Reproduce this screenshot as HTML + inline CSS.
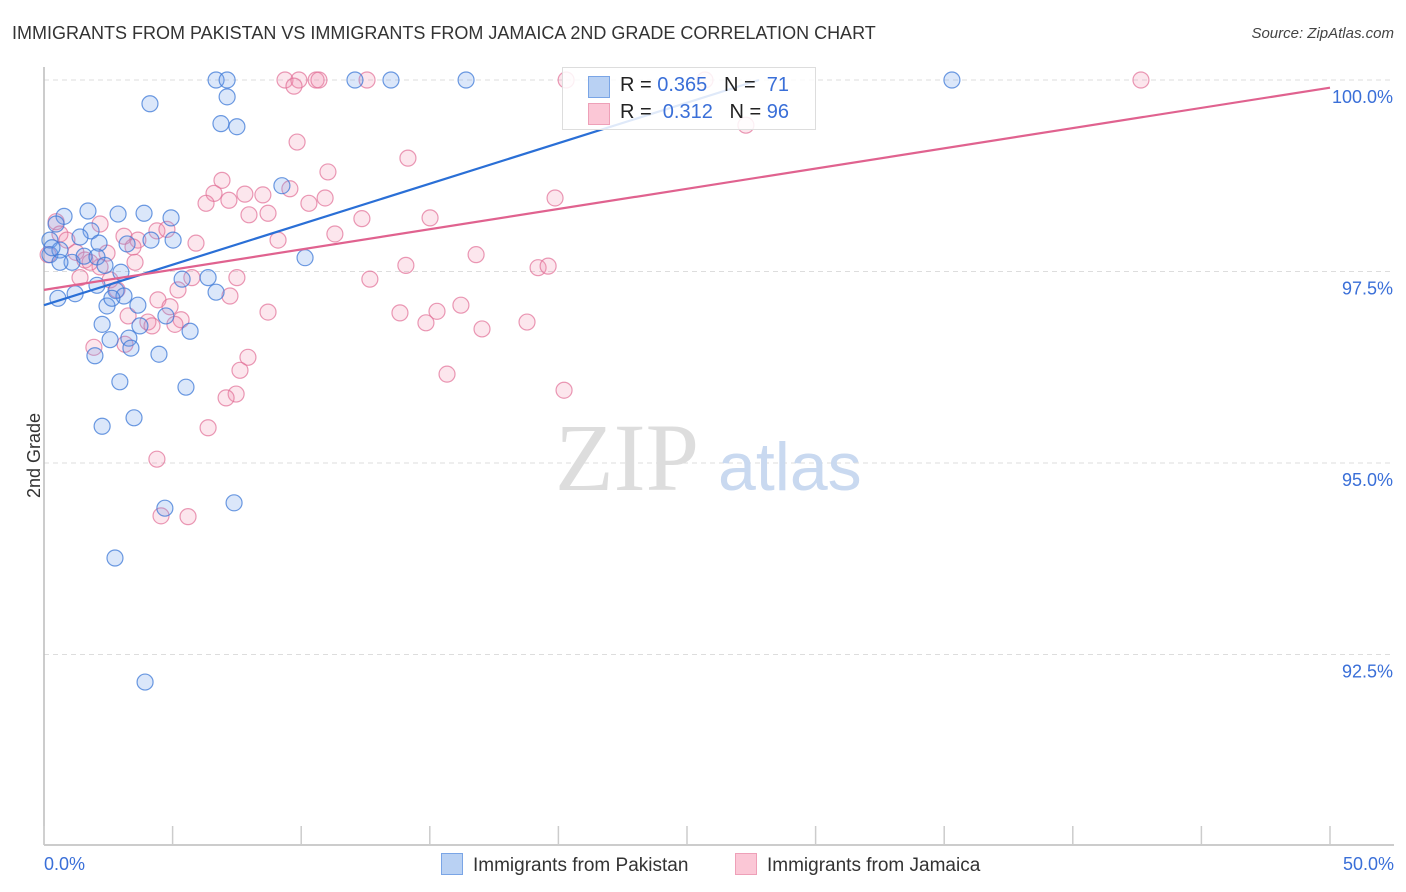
<!DOCTYPE html>
<html><head><meta charset="utf-8"><style>
body{margin:0;background:#fff;font-family:"Liberation Sans",sans-serif;}
#wrap{position:relative;width:1406px;height:892px;overflow:hidden;}
.t{position:absolute;white-space:nowrap;}
</style></head><body>
<div id="wrap">
<div class="t" style="left:12px;top:23px;font-size:18px;color:#333;">IMMIGRANTS FROM PAKISTAN VS IMMIGRANTS FROM JAMAICA 2ND GRADE CORRELATION CHART</div>
<div class="t" style="right:12px;top:25px;font-size:15px;color:#444;font-style:italic;">Source: ZipAtlas.com</div>
<div class="t" style="left:-8px;top:445px;font-size:18px;color:#333;transform:rotate(-90deg);">2nd Grade</div>
<svg id="plot" width="1406" height="892" style="position:absolute;left:0;top:0"></svg>
</div>
<script>
const xTicks=[0,5,10,15,20,25,30,35,40,45,50];
const yTicks=[100,97.5,95,92.5];
const yTickLabels=["100.0%","97.5%","95.0%","92.5%"];
const blueX=[6.69,7.12,12.09,13.49,16.41,35.30,4.12,7.12,6.88,7.50,9.25,10.15,0.78,1.71,2.88,3.89,4.94,0.47,1.83,1.40,2.14,3.23,4.16,5.02,0.23,0.23,0.62,1.09,1.56,2.06,2.37,2.99,5.37,6.38,6.69,0.54,1.21,2.06,2.80,3.11,2.45,3.65,4.74,2.26,3.73,5.68,2.57,3.30,3.38,4.47,1.98,2.95,5.52,3.50,2.26,4.70,7.39,2.76,3.93,0.31,0.62,2.64];
const blueY=[100,100,100,100,100,100,99.69,99.78,99.43,99.39,98.62,97.68,98.22,98.29,98.25,98.26,98.20,98.12,98.03,97.95,97.87,97.86,97.91,97.91,97.91,97.72,97.78,97.62,97.70,97.69,97.58,97.49,97.40,97.42,97.23,97.15,97.21,97.32,97.25,97.18,97.05,97.06,96.92,96.81,96.79,96.72,96.61,96.63,96.50,96.42,96.40,96.06,95.99,95.59,95.48,94.41,94.48,93.76,92.14,97.81,97.62,97.15];
const pinkX=[9.37,9.91,10.58,10.69,12.56,20.30,42.65,9.72,25.70,27.29,9.84,11.04,14.15,6.92,9.56,6.61,7.19,6.30,7.81,8.51,8.71,10.93,7.97,10.30,12.36,15.01,19.87,11.31,5.91,2.18,0.47,0.62,0.89,3.11,3.65,4.39,4.78,2.45,3.46,1.24,1.59,2.18,3.54,9.10,16.80,14.07,19.21,19.60,12.67,7.50,5.75,5.21,7.23,4.43,4.90,2.84,3.27,4.04,5.33,5.09,8.71,13.84,15.28,16.21,14.85,17.03,18.78,1.94,3.15,4.20,7.93,7.62,15.67,20.22,7.47,7.08,6.38,4.39,4.55,5.60,0.16,1.79,1.40,2.57];
const pinkY=[100,100,100,100,100,100,100,99.92,100,99.41,99.19,98.80,98.98,98.69,98.58,98.52,98.43,98.39,98.51,98.50,98.26,98.46,98.24,98.39,98.19,98.20,98.46,97.99,97.87,98.12,98.15,97.99,97.91,97.96,97.91,98.03,98.05,97.74,97.82,97.75,97.65,97.56,97.62,97.91,97.72,97.58,97.55,97.57,97.40,97.42,97.42,97.26,97.18,97.13,97.04,97.26,96.92,96.84,96.87,96.81,96.97,96.96,96.98,97.06,96.83,96.75,96.84,96.51,96.55,96.79,96.38,96.21,96.16,95.95,95.90,95.85,95.46,95.05,94.31,94.30,97.72,97.62,97.42,97.39];
const blueTrend=[[0,97.06],[27.8,100]];
const pinkTrend=[[0,97.26],[50,99.90]];
const NS="http://www.w3.org/2000/svg";
const svg=document.getElementById('plot');
const X0=44,X1=1330,Y100=80,PX_PER=191.5/2.5;
function sx(v){return X0+(v-0)/50*(X1-X0);}
function sy(v){return Y100+(100-v)*PX_PER;}
function el(tag,attrs,parent){const e=document.createElementNS(NS,tag);for(const k in attrs)e.setAttribute(k,attrs[k]);(parent||svg).appendChild(e);return e;}
// gridlines
yTicks.forEach((v,i)=>{
  const g=el('line',{x1:X0,x2:1394,y1:sy(v),y2:sy(v),stroke:'#ddd','stroke-dasharray':'5,4','stroke-width':1});
  
  
  const t=el('text',{x:1393,y:sy(v)+23,'text-anchor':'end','font-size':18,fill:'#3a6fd8','font-family':'Liberation Sans, sans-serif'});
  t.textContent=yTickLabels[i];
  
  
});
// axes
const ya=el('line',{x1:X0,x2:X0,y1:67,y2:845,stroke:'#bbb','stroke-width':1.5});


const xa=el('line',{x1:X0,x2:1394,y1:845,y2:845,stroke:'#bbb','stroke-width':1.5});


xTicks.forEach(v=>{
  const t=el('line',{x1:sx(v),x2:sx(v),y1:826,y2:845,stroke:'#ccc','stroke-width':1.5});
  
  
});
[[0,'0.0%','start',44],[50,'50.0%','end',1394]].forEach(a=>{
  const t=el('text',{x:a[3],y:870,'text-anchor':a[2],'font-size':18,fill:'#3a6fd8','font-family':'Liberation Sans, sans-serif'});
  t.textContent=a[1];
  
  
});
// watermark
const wm=el('text',{x:555,y:490,'font-size':96,fill:'#ddd','font-family':'Liberation Serif, serif'});
wm.textContent='ZIP';


const wm2=el('text',{x:718,y:490,'font-size':68,fill:'#c9d9f0','font-family':'Liberation Sans, sans-serif'});
wm2.textContent='atlas';


// points
function pts(xs,ys,fill,stroke,name){
  xs.forEach((x,i)=>{
    const c=el('circle',{cx:sx(x),cy:sy(ys[i]),r:8,fill:fill,stroke:stroke,'stroke-width':1.2});
    
    
  });
}
pts(pinkX,pinkY,'rgba(240,140,175,0.22)','rgba(225,110,150,0.7)','pink-point');
pts(blueX,blueY,'rgba(110,160,235,0.25)','rgba(60,120,215,0.75)','blue-point');
// trends
const bl=el('line',{x1:sx(blueTrend[0][0]),y1:sy(blueTrend[0][1]),x2:sx(blueTrend[1][0]),y2:sy(blueTrend[1][1]),stroke:'#2a6fd6','stroke-width':2.2});


const pl=el('line',{x1:sx(pinkTrend[0][0]),y1:sy(pinkTrend[0][1]),x2:sx(pinkTrend[1][0]),y2:sy(pinkTrend[1][1]),stroke:'#e0628f','stroke-width':2.2});


</script>
<div class="t" style="left:562px;top:67px;width:254px;height:63px;background:rgba(255,255,255,0.85);border:1px solid #ddd;box-sizing:border-box;font-size:20px;">
 <div style="position:absolute;left:25px;top:8px;width:20px;height:20px;background:#b9d1f3;border:1px solid #7aa5e6;"></div>
 <div style="position:absolute;left:57px;top:6px;color:#222;">R = <span style="color:#3a6fd8">0.365</span>&nbsp;&nbsp;&nbsp;N = &nbsp;<span style="color:#3a6fd8">71</span></div>
 <div style="position:absolute;left:25px;top:35px;width:20px;height:20px;background:#fbc7d6;border:1px solid #eea0b8;"></div>
 <div style="position:absolute;left:57px;top:33px;color:#222;">R = &nbsp;<span style="color:#3a6fd8">0.312</span>&nbsp;&nbsp;&nbsp;N = <span style="color:#3a6fd8">96</span></div>
</div>
<div class="t" style="left:441px;top:853px;font-size:19px;color:#333;"><span style="display:inline-block;width:20px;height:20px;background:#b9d1f3;border:1px solid #7aa5e6;vertical-align:-4px;margin-right:10px;"></span>Immigrants from Pakistan</div>
<div class="t" style="left:735px;top:853px;font-size:19px;color:#333;"><span style="display:inline-block;width:20px;height:20px;background:#fbc7d6;border:1px solid #eea0b8;vertical-align:-4px;margin-right:10px;"></span>Immigrants from Jamaica</div>
</body></html>
